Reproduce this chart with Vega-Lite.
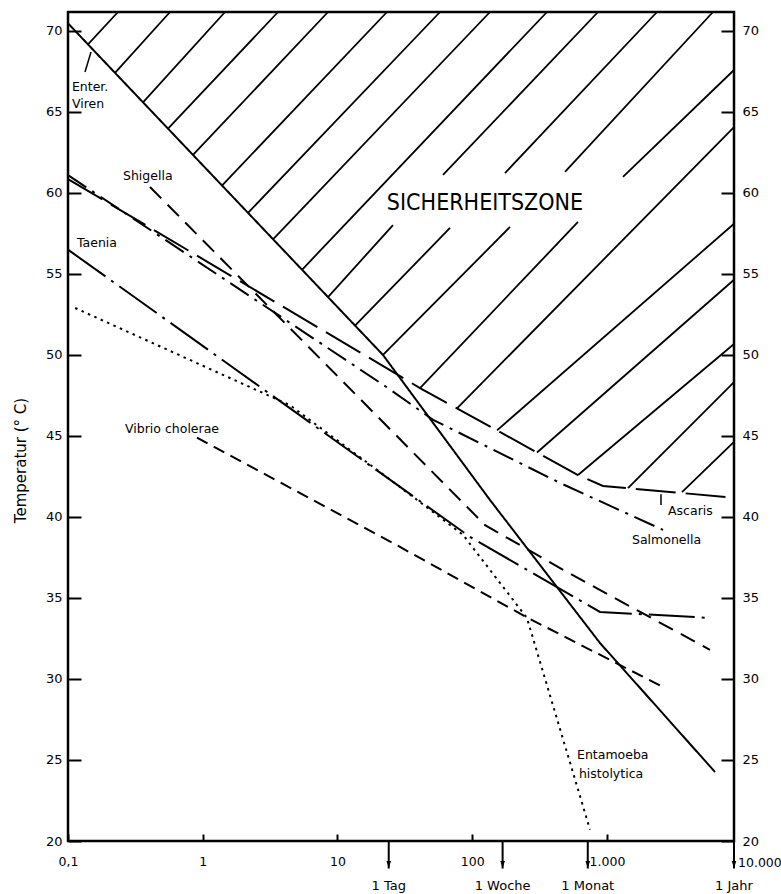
{
  "$schema": "https://vega.github.io/schema/vega-lite/v6.json",
  "width": 666,
  "height": 829,
  "autosize": {"type": "none"},
  "padding": {"left": 68, "top": 12, "right": 47, "bottom": 53},
  "background": "white",
  "config": {
    "view": {"stroke": "black", "strokeWidth": 2.5},
    "font": "DejaVu Sans",
    "axis": {"grid": false, "domain": false, "labelColor": "black", "tickColor": "black", "tickWidth": 2, "labelFont": "DejaVu Sans", "labelFontSize": 12.5, "titleColor": "black"}
  },
  "datasets": {
    "hatch": [
      {"x1": 0.1407, "y1": 69.17, "x2": 0.235, "y2": 71.17},
      {"x1": 0.2233, "y1": 67.41, "x2": 0.5715, "y2": 71.17},
      {"x1": 0.3602, "y1": 65.59, "x2": 1.463, "y2": 71.17},
      {"x1": 0.5523, "y1": 63.97, "x2": 3.618, "y2": 71.17},
      {"x1": 0.8464, "y1": 62.35, "x2": 8.502, "y2": 71.17},
      {"x1": 1.389, "y1": 60.46, "x2": 23.29, "y2": 71.17},
      {"x1": 2.167, "y1": 58.77, "x2": 57.64, "y2": 71.17},
      {"x1": 3.321, "y1": 57.14, "x2": 135.4, "y2": 71.17},
      {"x1": 5.452, "y1": 55.26, "x2": 358.6, "y2": 71.17},
      {"x1": 8.502, "y1": 53.57, "x2": 25.81, "y2": 58.02},
      {"x1": 60.66, "y1": 61.11, "x2": 857.6, "y2": 71.17},
      {"x1": 13.49, "y1": 51.81, "x2": 68.37, "y2": 57.84},
      {"x1": 175.0, "y1": 61.23, "x2": 2350, "y2": 71.17},
      {"x1": 21.76, "y1": 50.0, "x2": 190.6, "y2": 57.9},
      {"x1": 487.9, "y1": 61.3, "x2": 6116, "y2": 71.17},
      {"x1": 40.95, "y1": 47.96, "x2": 609.3, "y2": 58.21},
      {"x1": 1314, "y1": 60.99, "x2": 8760, "y2": 67.59},
      {"x1": 77.05, "y1": 46.7, "x2": 8760, "y2": 64.07},
      {"x1": 152.7, "y1": 45.35, "x2": 8760, "y2": 58.1},
      {"x1": 302.4, "y1": 43.98, "x2": 8760, "y2": 54.64},
      {"x1": 609.3, "y1": 42.59, "x2": 8760, "y2": 50.68},
      {"x1": 1431, "y1": 41.78, "x2": 8760, "y2": 48.33},
      {"x1": 3602, "y1": 41.54, "x2": 8760, "y2": 44.63}
    ],
    "curves": [
      {"organism": "Enter. Viren", "x": 0.1, "y": 70.47},
      {"organism": "Enter. Viren", "x": 21.76, "y": 50.0},
      {"organism": "Enter. Viren", "x": 135.4, "y": 41.05},
      {"organism": "Enter. Viren", "x": 887, "y": 32.22},
      {"organism": "Enter. Viren", "x": 6331, "y": 24.26},
      {"organism": "Shigella", "x": 0.406, "y": 60.37},
      {"organism": "Shigella", "x": 124.5, "y": 39.5},
      {"organism": "Shigella", "x": 505, "y": 36.6},
      {"organism": "Shigella", "x": 5807, "y": 31.8},
      {"organism": "Taenia", "x": 0.1, "y": 56.5},
      {"organism": "Taenia", "x": 96.2, "y": 38.77},
      {"organism": "Taenia", "x": 887, "y": 34.14},
      {"organism": "Taenia", "x": 5807, "y": 33.77},
      {"organism": "Vibrio cholerae", "x": 0.906, "y": 44.9},
      {"organism": "Vibrio cholerae", "x": 29.1, "y": 38.15},
      {"organism": "Vibrio cholerae", "x": 254.6, "y": 33.8},
      {"organism": "Vibrio cholerae", "x": 2472, "y": 29.6},
      {"organism": "Entamoeba histolytica", "x": 0.113, "y": 52.9},
      {"organism": "Entamoeba histolytica", "x": 4.44, "y": 46.9},
      {"organism": "Entamoeba histolytica", "x": 29.1, "y": 41.85},
      {"organism": "Entamoeba histolytica", "x": 85.3, "y": 38.9},
      {"organism": "Entamoeba histolytica", "x": 254.6, "y": 33.77},
      {"organism": "Entamoeba histolytica", "x": 748, "y": 20.7},
      {"organism": "Ascaris", "x": 0.1, "y": 60.86},
      {"organism": "Ascaris", "x": 40.95, "y": 47.96},
      {"organism": "Ascaris", "x": 609.3, "y": 42.59},
      {"organism": "Ascaris", "x": 933.9, "y": 41.91},
      {"organism": "Ascaris", "x": 7772, "y": 41.23},
      {"organism": "Salmonella", "x": 0.1, "y": 61.1},
      {"organism": "Salmonella", "x": 23.3, "y": 48.0},
      {"organism": "Salmonella", "x": 51.2, "y": 46.0},
      {"organism": "Salmonella", "x": 448, "y": 42.1},
      {"organism": "Salmonella", "x": 2606, "y": 39.2}
    ],
    "labels": [
      {"x": 0.107, "y": 66.54, "text": "Enter."},
      {"x": 0.107, "y": 65.49, "text": "Viren"},
      {"x": 0.256, "y": 61.05, "text": "Shigella"},
      {"x": 0.1166, "y": 56.91, "text": "Taenia"},
      {"x": 0.265, "y": 45.43, "text": "Vibrio cholerae"},
      {"x": 2838, "y": 40.37, "text": "Ascaris"},
      {"x": 1533, "y": 38.58, "text": "Salmonella"},
      {"x": 599, "y": 25.31, "text": "Entamoeba"},
      {"x": 619, "y": 24.14, "text": "histolytica"}
    ],
    "zone": [
      {"x": 124.3, "y": 59.38, "text": "SICHERHEITSZONE"}
    ],
    "times": [
      {"hours": 24, "label": "1 Tag"},
      {"hours": 168, "label": "1 Woche"},
      {"hours": 720, "label": "1 Monat"},
      {"hours": 8760, "label": "1 Jahr"}
    ],
    "endlabel": [
      {"hours": 8760, "label": "10.000"}
    ],
    "pointers": [
      {"x1": 2516, "y1": 40.74, "x2": 2516, "y2": 41.4},
      {"x1": 0.1337, "y1": 67.47, "x2": 0.1482, "y2": 68.7}
    ]
  },
  "resolve": {"axis": {"x": "independent", "y": "independent"}},
  "layer": [
    {
      "data": {"name": "hatch"},
      "mark": {"type": "rule", "stroke": "black", "strokeWidth": 1.8},
      "encoding": {
        "x": {
          "field": "x1", "type": "quantitative",
          "scale": {"type": "log", "domain": [0.1, 8760], "nice": false},
          "axis": {
            "orient": "bottom", "values": [0.1, 1, 10, 100, 1000],
            "tickSize": -7, "labelPadding": 21, "title": null,
            "labelFlush": false, "labelOverlap": false, "labelFontSize": 12.5,
            "labelExpr": "datum.value < 0.5 ? '0,1' : datum.value < 5 ? '1' : datum.value < 50 ? '10' : datum.value < 500 ? '100' : '1.000'"
          }
        },
        "x2": {"field": "x2"},
        "y": {
          "field": "y1", "type": "quantitative",
          "scale": {"domain": [20, 71.17], "nice": false, "zero": false},
          "axis": {
            "orient": "left", "values": [20, 25, 30, 35, 40, 45, 50, 55, 60, 65, 70],
            "tickSize": -13, "labelPadding": 19, "labelFontSize": 13, "labelFlush": false,
            "title": "Temperatur (° C)", "titleFontSize": 15, "titleFontWeight": "normal",
            "titleX": -48, "titleY": 448, "titleAngle": -90, "titleBaseline": "middle", "titleAlign": "center"
          }
        },
        "y2": {"field": "y2"}
      }
    },
    {
      "data": {"name": "curves"},
      "mark": {"type": "line", "stroke": "black", "strokeCap": "butt"},
      "encoding": {
        "x": {"field": "x", "type": "quantitative", "scale": {"type": "log", "domain": [0.1, 8760], "nice": false}, "axis": null},
        "y": {
          "field": "y", "type": "quantitative",
          "scale": {"domain": [20, 71.17], "nice": false, "zero": false},
          "axis": {
            "orient": "right", "values": [20, 25, 30, 35, 40, 45, 50, 55, 60, 65, 70],
            "tickSize": -13, "labelPadding": 21, "labelFontSize": 13, "labelFlush": false, "title": null
          }
        },
        "strokeDash": {
          "field": "organism", "type": "nominal", "legend": null,
          "scale": {
            "domain": ["Enter. Viren", "Shigella", "Taenia", "Vibrio cholerae", "Entamoeba histolytica", "Ascaris", "Salmonella"],
            "range": [[1, 0], [16, 9], [46, 7, 3, 7], [12, 7], [2.5, 4.5], [40, 10], [22, 7, 3, 7]]
          }
        },
        "strokeWidth": {
          "field": "organism", "type": "nominal", "legend": null,
          "scale": {
            "domain": ["Enter. Viren", "Shigella", "Taenia", "Vibrio cholerae", "Entamoeba histolytica", "Ascaris", "Salmonella"],
            "range": [2, 2, 2, 2, 2.6, 2, 2]
          }
        }
      }
    },
    {
      "data": {"name": "labels"},
      "mark": {"type": "text", "align": "left", "baseline": "middle", "fontSize": 12.5, "font": "DejaVu Sans", "color": "black"},
      "encoding": {
        "x": {"field": "x", "type": "quantitative", "scale": {"type": "log", "domain": [0.1, 8760], "nice": false}, "axis": null},
        "y": {"field": "y", "type": "quantitative", "scale": {"domain": [20, 71.17], "nice": false, "zero": false}, "axis": null},
        "text": {"field": "text"}
      }
    },
    {
      "data": {"name": "zone"},
      "mark": {"type": "text", "align": "center", "baseline": "middle", "fontSize": 23, "font": "Liberation Sans Narrow, DejaVu Sans Condensed, sans-serif", "color": "black"},
      "encoding": {
        "x": {"field": "x", "type": "quantitative", "scale": {"type": "log", "domain": [0.1, 8760], "nice": false}, "axis": null},
        "y": {"field": "y", "type": "quantitative", "scale": {"domain": [20, 71.17], "nice": false, "zero": false}, "axis": null},
        "text": {"field": "text"}
      }
    },
    {
      "data": {"name": "times"},
      "mark": {"type": "rule", "stroke": "black", "strokeWidth": 2},
      "encoding": {
        "x": {"field": "hours", "type": "quantitative", "scale": {"type": "log", "domain": [0.1, 8760], "nice": false}, "axis": null},
        "y": {"datum": 20, "type": "quantitative", "scale": {"domain": [20, 71.17], "nice": false, "zero": false}, "axis": null},
        "y2": {"datum": 18.3}
      }
    },
    {
      "data": {"name": "times"},
      "mark": {"type": "point", "shape": "M -0.33 -0.5 L 0.33 -0.5 L 0 0.5 Z", "size": 196, "filled": true, "color": "black", "opacity": 1},
      "encoding": {
        "x": {"field": "hours", "type": "quantitative", "scale": {"type": "log", "domain": [0.1, 8760], "nice": false}, "axis": null},
        "y": {"datum": 18.55, "type": "quantitative", "scale": {"domain": [20, 71.17], "nice": false, "zero": false}, "axis": null}
      }
    },
    {
      "data": {"name": "times"},
      "mark": {"type": "text", "align": "center", "baseline": "middle", "fontSize": 13, "font": "DejaVu Sans", "color": "black"},
      "encoding": {
        "x": {"field": "hours", "type": "quantitative", "scale": {"type": "log", "domain": [0.1, 8760], "nice": false}, "axis": null},
        "y": {"datum": 17.25, "type": "quantitative", "scale": {"domain": [20, 71.17], "nice": false, "zero": false}, "axis": null},
        "text": {"field": "label"}
      }
    },
    {
      "data": {"name": "endlabel"},
      "mark": {"type": "text", "align": "left", "baseline": "middle", "dx": 4, "fontSize": 12.5, "font": "DejaVu Sans", "color": "black"},
      "encoding": {
        "x": {"field": "hours", "type": "quantitative", "scale": {"type": "log", "domain": [0.1, 8760], "nice": false}, "axis": null},
        "y": {"datum": 18.64, "type": "quantitative", "scale": {"domain": [20, 71.17], "nice": false, "zero": false}, "axis": null},
        "text": {"field": "label"}
      }
    },
    {
      "data": {"name": "pointers"},
      "mark": {"type": "rule", "stroke": "black", "strokeWidth": 1.5},
      "encoding": {
        "x": {"field": "x1", "type": "quantitative", "scale": {"type": "log", "domain": [0.1, 8760], "nice": false}, "axis": null},
        "x2": {"field": "x2"},
        "y": {"field": "y1", "type": "quantitative", "scale": {"domain": [20, 71.17], "nice": false, "zero": false}, "axis": null},
        "y2": {"field": "y2"}
      }
    }
  ]
}
